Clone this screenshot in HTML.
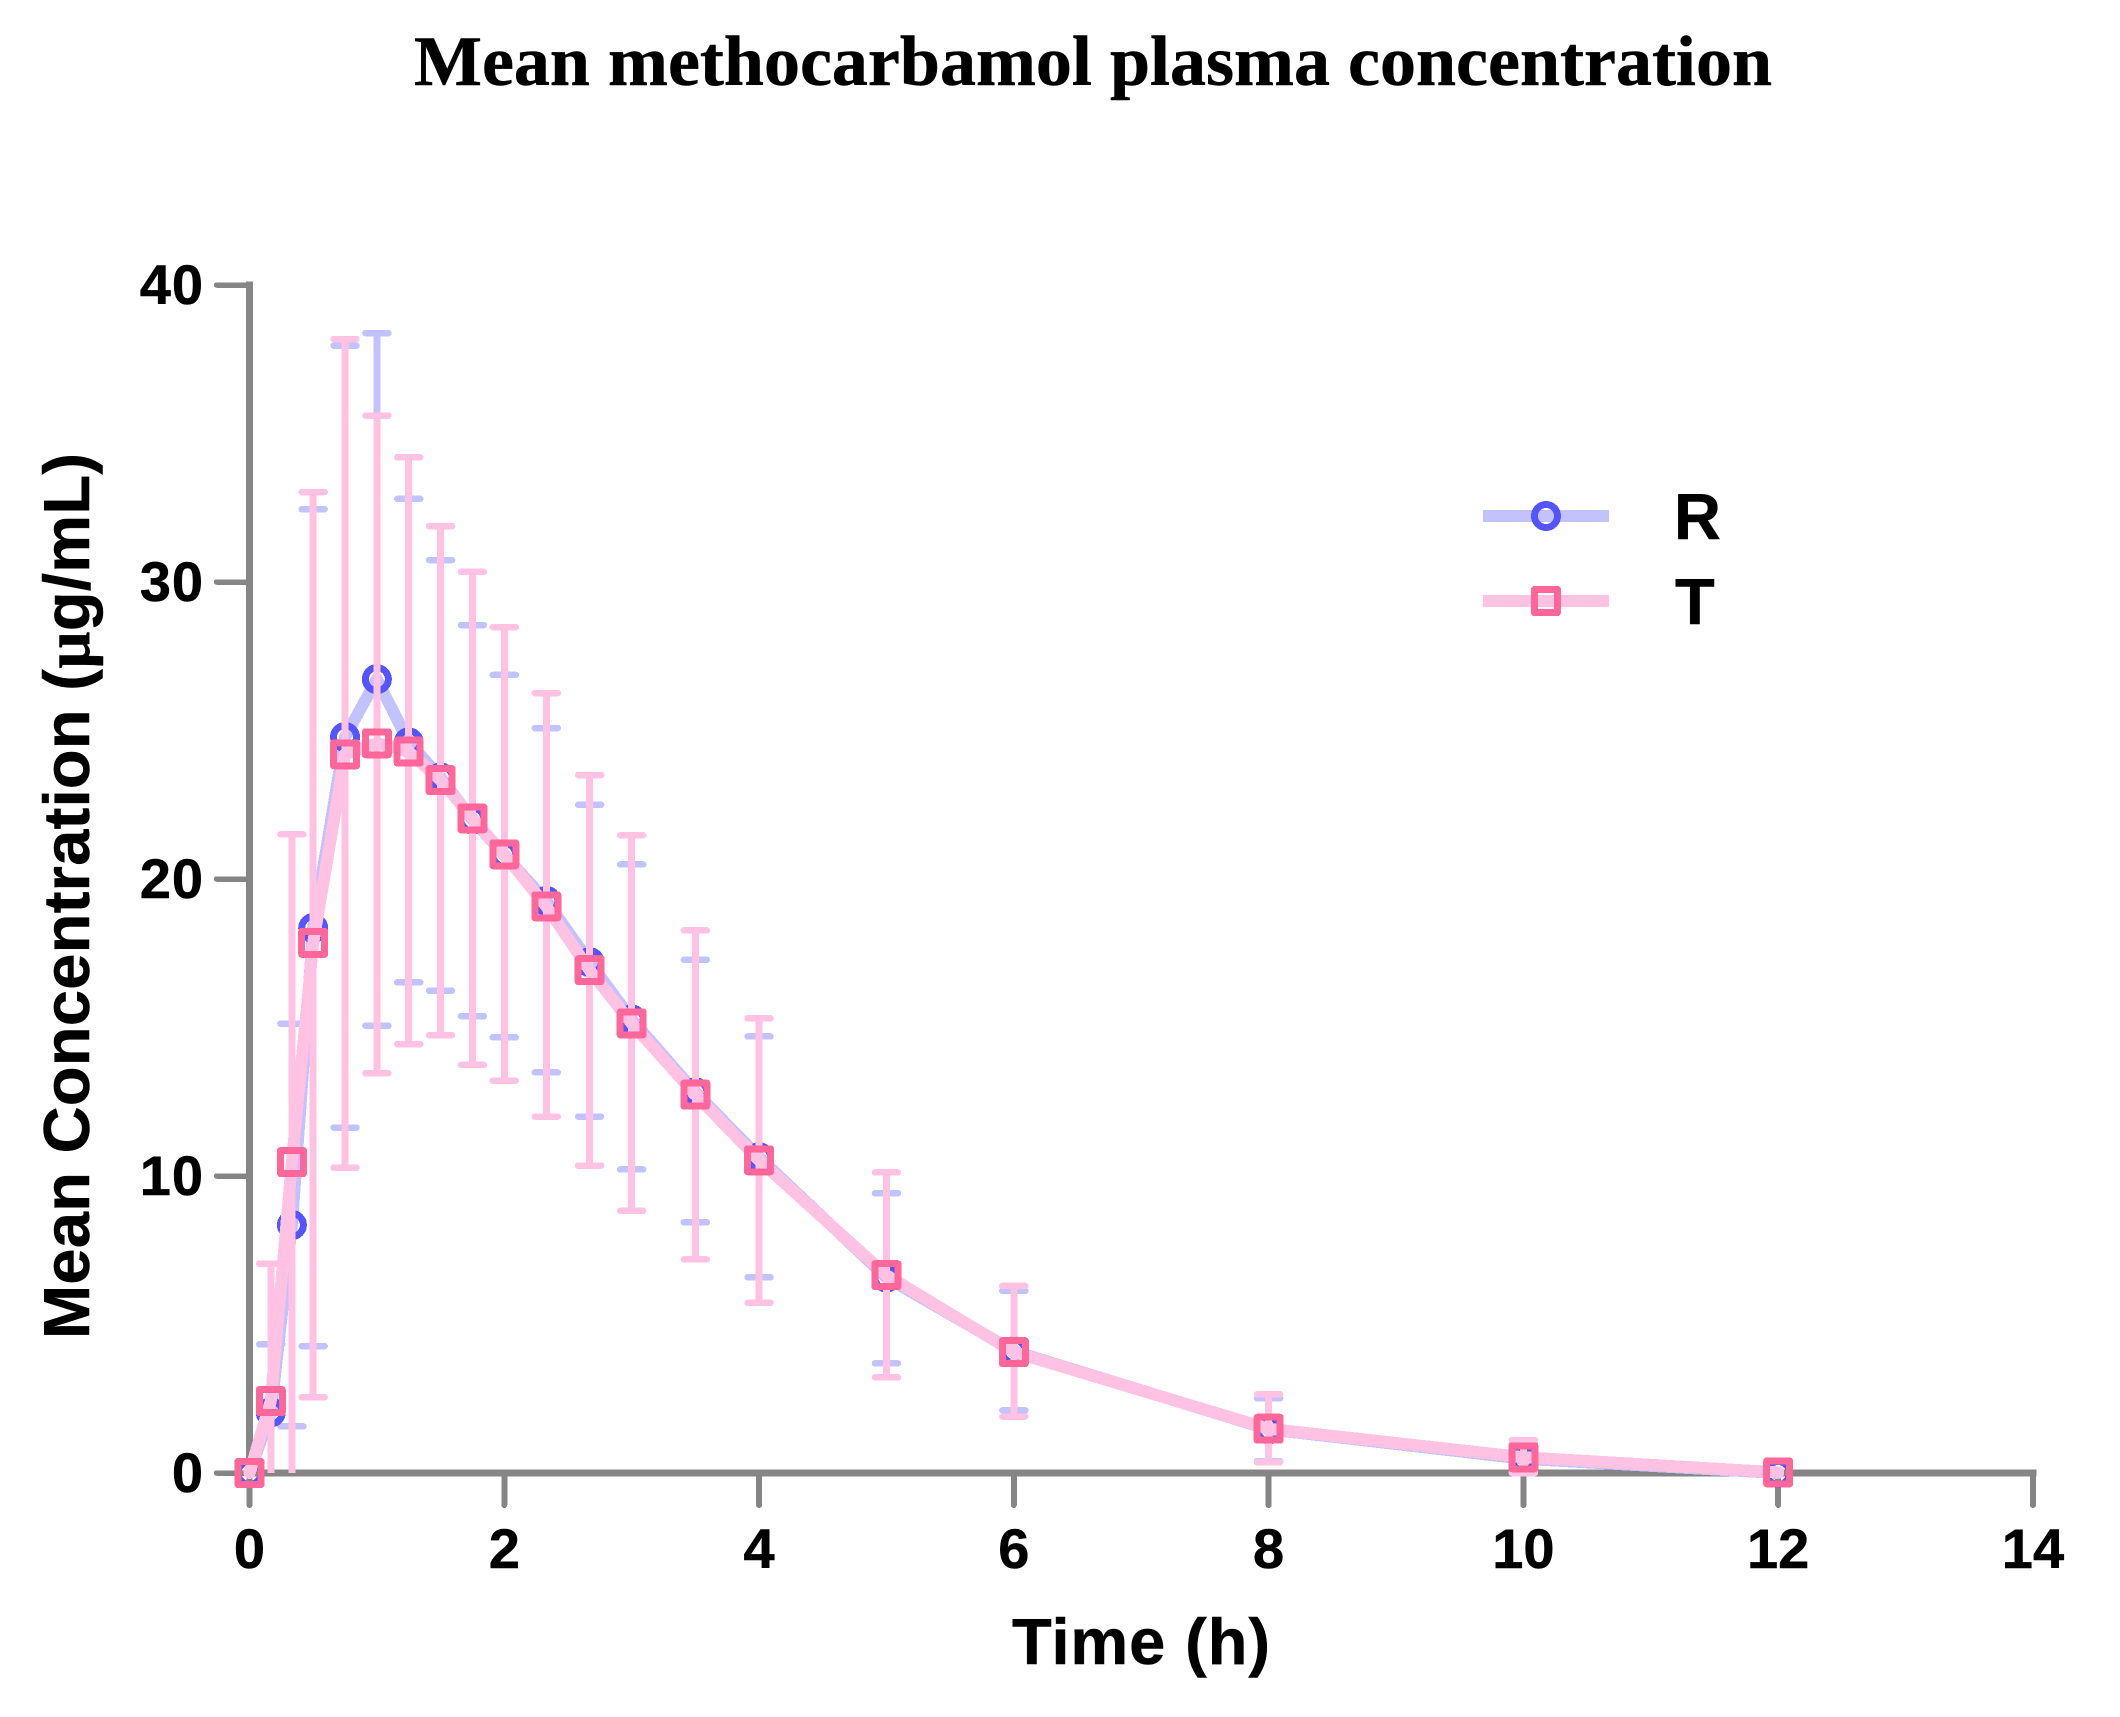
<!DOCTYPE html>
<html lang="en">
<head>
<meta charset="utf-8">
<title>Mean methocarbamol plasma concentration</title>
<style>
html,body{margin:0;padding:0;background:#fff;width:2120px;height:1717px;overflow:hidden}
svg{display:block;shape-rendering:crispEdges}
text{fill:#000;stroke:#000;stroke-width:0.5px;font-family:"Liberation Sans",sans-serif;font-weight:bold}
</style>
</head>
<body>
<svg id="chart" xmlns="http://www.w3.org/2000/svg" width="2120" height="1717" viewBox="0 0 2120 1717">
  <rect x="0" y="0" width="2120" height="1717" fill="#fff"/>
  <text x="414" y="85" font-size="71" textLength="1358" lengthAdjust="spacingAndGlyphs" style="font-family:'Liberation Serif',serif">Mean methocarbamol plasma concentration</text>
  <text transform="translate(89,1339) rotate(-90)" font-size="65" textLength="886">Mean Concentration (<tspan style="font-family:'Liberation Serif',serif">µ</tspan>g/mL)</text>
  <text x="1012" y="1664" font-size="65" textLength="258">Time (h)</text>
  <g id="axes"></g>
  <g id="series-r"></g>
  <g id="series-t"></g>
  <g>
    <g>
      <line x1="1483" y1="516" x2="1609" y2="516" stroke="#C2C2FF" stroke-width="12"/>
      <circle cx="1546" cy="516" r="11.5" fill="none" stroke="#5555FF" stroke-width="7"/>
      <text x="1674" y="539" font-size="65">R</text>
    </g>
    <g>
      <line x1="1483" y1="601" x2="1609" y2="601" stroke="#FFC2E3" stroke-width="12"/>
      <rect x="1534.5" y="589.5" width="23" height="23" fill="none" stroke="#FF6699" stroke-width="7" stroke-linejoin="round"/>
      <text x="1675" y="624" font-size="65">T</text>
    </g>
  </g>
</svg>
<script>
const xTicks = [0, 2, 4, 6, 8, 10, 12, 14];
const yTicks = [0, 10, 20, 30, 40];
const times = [0, 0.167, 0.333, 0.5, 0.75, 1, 1.25, 1.5, 1.75, 2, 2.33, 2.67, 3, 3.5, 4, 5, 6, 8, 10, 12];
const rMean = [0, 2.04, 8.35, 18.35, 24.78, 26.73, 24.6, 23.42, 22.0, 20.81, 19.26, 17.2, 15.27, 12.82, 10.63, 6.58, 4.1, 1.47, 0.48, 0];
const rUpper = [0, 4.33, 15.13, 32.45, 37.96, 38.38, 32.8, 30.74, 28.55, 26.87, 25.08, 22.5, 20.49, 17.28, 14.7, 9.42, 6.13, 2.51, 1.0, 0];
const rLower = [0, -0.1, 1.57, 4.27, 11.63, 15.06, 16.52, 16.24, 15.38, 14.67, 13.49, 12.0, 10.22, 8.44, 6.59, 3.69, 2.11, 0.4, 0.03, 0];
const tMean = [0, 2.42, 10.47, 17.85, 24.2, 24.57, 24.29, 23.33, 22.04, 20.83, 19.08, 16.93, 15.14, 12.74, 10.53, 6.66, 4.07, 1.49, 0.53, 0.02];
const tUpper = [0, 7.05, 21.5, 33.03, 38.18, 35.6, 34.2, 31.88, 30.34, 28.48, 26.26, 23.5, 21.47, 18.27, 15.31, 10.12, 6.3, 2.65, 1.11, 0.02];
const tLower = [0, -2.25, -0.5, 2.55, 10.28, 13.46, 14.44, 14.74, 13.74, 13.21, 12.0, 10.35, 8.83, 7.19, 5.73, 3.22, 1.9, 0.36, 0, 0.02];

const SVGNS = 'http://www.w3.org/2000/svg';
function sx(t) { return 249.5 + t * 127.39; }
function sy(v) { return 1473 - v * 29.7; }

function make(tag, parent, name) {
  const el = document.createElementNS(SVGNS, tag);
  
  
  parent.appendChild(el);
  return el;
}
function seg(parent, name, x1, y1, x2, y2, color, w, cap) {
  const l = make('line', parent, name);
  l.setAttribute('x1', x1);
  l.setAttribute('y1', y1);
  l.setAttribute('x2', x2);
  l.setAttribute('y2', y2);
  l.setAttribute('stroke', color);
  l.setAttribute('stroke-width', w);
  l.setAttribute('stroke-linecap', cap || 'butt');
  return l;
}

const axes = document.getElementById('axes');
const AXIS = '#858585';
seg(axes, 'y-axis-line', sx(0), sy(0), sx(0), sy(40), AXIS, 7, 'square');
seg(axes, 'x-axis-line', sx(0), sy(0), sx(14), sy(0), AXIS, 7, 'square');
yTicks.forEach(function (v) {
  seg(axes, 'y-tick-' + v, 216.5, sy(v), sx(0), sy(v), AXIS, 5.5, 'round');
  const t = make('text', axes, 'y-tick-label-' + v);
  t.setAttribute('x', 204);
  t.setAttribute('y', sy(v) + 19);
  t.setAttribute('font-size', 56);
  t.setAttribute('letter-spacing', 1);
  t.setAttribute('text-anchor', 'end');
  t.textContent = v;
});
xTicks.forEach(function (v) {
  seg(axes, 'x-tick-' + v, sx(v), sy(0), sx(v), 1505, AXIS, 6, 'round');
  const t = make('text', axes, 'x-tick-label-' + v);
  t.setAttribute('x', sx(v));
  t.setAttribute('y', 1568);
  t.setAttribute('font-size', 56);
  t.setAttribute('text-anchor', 'middle');
  t.textContent = v;
});

function errorBars(group, key, color, upper, lower, mean) {
  times.forEach(function (t, i) {
    if (upper[i] === mean[i]) return;
    const x = sx(t);
    const bottom = Math.max(lower[i], 0);
    seg(group, 'error-stem-' + key + '-' + t, x, sy(upper[i]), x, sy(bottom), color, 7);
    seg(group, 'error-cap-upper-' + key + '-' + t, x - 11.5, sy(upper[i]), x + 11.5, sy(upper[i]), color, 6.5, 'round');
    if (lower[i] >= 0) {
      seg(group, 'error-cap-lower-' + key + '-' + t, x - 11.5, sy(lower[i]), x + 11.5, sy(lower[i]), color, 6.5, 'round');
    }
  });
}
function meanLine(group, key, color, mean) {
  const p = make('polyline', group, 'mean-line-' + key);
  p.setAttribute('points', times.map(function (t, i) { return sx(t) + ',' + sy(mean[i]); }).join(' '));
  p.setAttribute('fill', 'none');
  p.setAttribute('stroke', color);
  p.setAttribute('stroke-width', 12);
  p.setAttribute('stroke-linejoin', 'round');
  p.setAttribute('stroke-linecap', 'round');
}

const gr = document.getElementById('series-r');
const gt = document.getElementById('series-t');

meanLine(gr, 'r', '#C2C2FF', rMean);
errorBars(gr, 'r', '#C2C2FF', rUpper, rLower, rMean);
times.forEach(function (t, i) {
  const c = make('circle', gr, 'point-r-' + t);
  c.setAttribute('cx', sx(t));
  c.setAttribute('cy', sy(rMean[i]));
  c.setAttribute('r', 11.5);
  c.setAttribute('fill', 'none');
  c.setAttribute('stroke', '#5555FF');
  c.setAttribute('stroke-width', 7);
});

errorBars(gt, 't', '#FFC2E3', tUpper, tLower, tMean);
meanLine(gt, 't', '#FFC2E3', tMean);
times.forEach(function (t, i) {
  const r = make('rect', gt, 'point-t-' + t);
  r.setAttribute('x', sx(t) - 11.5);
  r.setAttribute('y', sy(tMean[i]) - 11.5);
  r.setAttribute('width', 23);
  r.setAttribute('height', 23);
  r.setAttribute('fill', 'none');
  r.setAttribute('stroke', '#FF6699');
  r.setAttribute('stroke-width', 7);
  r.setAttribute('stroke-linejoin', 'round');
});
</script>
</body>
</html>
